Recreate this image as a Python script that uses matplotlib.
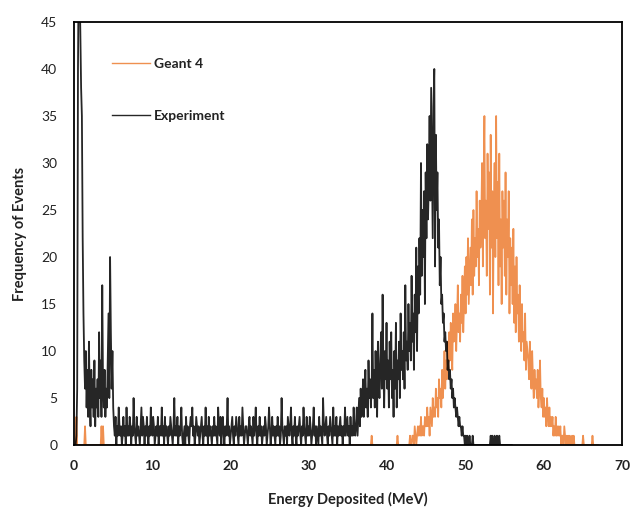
"""
Energy deposition spectrum: Geant 4 simulation vs experiment.
Counts per 0.1 MeV bin, read off the published figure (one row = 1 MeV).
"""

import matplotlib.pyplot as plt
import numpy as np

# ── Style ───────────────────────────────────────────────────────────────────────
GEANT_COLOR = "#ED7D31"
EXP_COLOR = "#000000"
FONT = ["Lato", "DejaVu Sans"]
BIN = 0.1

# ── Data (counts per 0.1 MeV bin) ───────────────────────────────────────────────
# Experiment, bins starting at 0.0 MeV
exp_start = 0.0
exp_counts = [
    0, 0, 0, 1, 6, 40, 52, 49, 44, 38,       # 0
    35, 22, 14, 9, 6, 10, 4, 8, 3, 11,       # 1
    5, 2, 8, 4, 7, 3, 9, 2, 6, 4,
    7, 3, 12, 5, 9, 3, 17, 6, 4, 8,
    3, 6, 4, 9, 14, 5, 20, 12, 6, 10,        # 4
    4, 2, 1, 3, 0, 2, 1, 4, 2, 1,            # 5
    2, 0, 1, 3, 1, 2, 0, 4, 1, 2,
    1, 3, 2, 0, 2, 1, 5, 2, 1, 0,
    3, 1, 2, 1, 0, 2, 4, 1, 3, 2,
    0, 2, 1, 3, 1, 0, 2, 1, 4, 2,
    1, 3, 2, 0, 1, 2, 1, 3, 0, 2,            # 10
    2, 1, 4, 1, 2, 0, 3, 1, 2, 1,
    0, 2, 1, 3, 2, 1, 0, 2, 5, 1,
    2, 1, 3, 0, 2, 1, 2, 4, 1, 0,
    1, 2, 0, 3, 1, 2, 1, 0, 2, 3,
    2, 4, 1, 2, 0, 1, 3, 2, 1, 2,            # 15
    0, 1, 2, 3, 1, 0, 2, 1, 4, 1,
    2, 0, 3, 1, 2, 1, 0, 2, 1, 3,
    1, 2, 1, 0, 4, 2, 1, 3, 0, 2,
    3, 1, 0, 2, 1, 2, 5, 1, 2, 0,
    1, 2, 3, 1, 0, 2, 1, 3, 2, 1,            # 20
    0, 3, 1, 2, 1, 4, 2, 0, 1, 2,
    2, 1, 0, 2, 3, 1, 2, 1, 0, 3,
    1, 2, 4, 1, 0, 2, 1, 3, 1, 2,
    0, 1, 2, 1, 3, 2, 0, 1, 2, 4,
    2, 0, 1, 3, 1, 2, 1, 0, 2, 1,            # 25
    3, 1, 2, 0, 1, 5, 2, 1, 0, 2,
    1, 2, 0, 3, 2, 1, 2, 4, 1, 0,
    2, 1, 3, 1, 0, 2, 1, 2, 3, 1,
    0, 2, 1, 4, 2, 1, 0, 3, 1, 2,
    1, 3, 2, 0, 1, 2, 4, 1, 2, 0,            # 30
    2, 1, 0, 3, 1, 2, 1, 0, 5, 2,
    1, 2, 3, 1, 0, 2, 1, 3, 2, 1,
    0, 4, 1, 2, 1, 3, 0, 2, 1, 2,
    3, 1, 2, 0, 2, 1, 4, 1, 2, 3,
    1, 2, 0, 3, 1, 2, 1, 4, 2, 1,            # 35
    2, 4, 1, 3, 5, 2, 6, 3, 4, 7,
    3, 5, 8, 4, 6, 3, 9, 5, 7, 4,
    6, 14, 5, 8, 4, 10, 6, 3, 11, 7,
    5, 9, 12, 6, 16, 8, 4, 10, 7, 13,
    6, 9, 4, 11, 7, 12, 5, 8, 3, 10,         # 40
    6, 13, 4, 9, 7, 11, 5, 14, 8, 10,
    7, 12, 6, 17, 9, 11, 8, 15, 10, 13,
    9, 18, 11, 14, 8, 16, 12, 21, 10, 19,
    14, 22, 16, 30, 18, 25, 20, 27, 15, 29,
    22, 32, 24, 28, 35, 26, 38, 30, 22, 36,  # 45
    40, 19, 33, 25, 29, 21, 24, 17, 20, 15,
    16, 13, 14, 11, 12, 10, 11, 8, 9, 7,
    8, 6, 7, 5, 6, 4, 5, 4, 3, 4,
    3, 2, 3, 2, 2, 1, 2, 1, 1, 0,
    1, 0, 1, 0, 0, 1, 0, 0, 0, 1,            # 50
    0, 0, 0, 0, 0, 0, 0, 0, 0, 0,
    0, 0, 0, 0, 0, 0, 0, 0, 0, 0,
    0, 0, 1, 0, 1, 0, 0, 1, 0, 0,
    1, 0, 0, 1, 0, 0, 0, 0, 0, 0,
    0, 0, 0, 0, 0, 0, 0, 0, 0, 0,            # 55
]

# Geant 4, low-energy bins starting at 0.0 MeV
geant_low_start = 0.0
geant_low_counts = [
    0, 0, 0, 3, 0, 0, 0, 0, 0, 0,
    0, 0, 0, 0, 2, 0, 0, 0, 0, 0,
    0, 0, 0, 0, 0, 0, 0, 0, 0, 0,
    0, 0, 0, 0, 0, 2, 0, 2, 0, 0,
    0,
]

# Geant 4, main peak bins starting at 36.0 MeV
geant_main_start = 36.0
geant_main_counts = [
    0, 0, 0, 0, 0, 0, 0, 0, 0, 0,            # 36
    0, 0, 0, 0, 0, 0, 0, 0, 0, 0,
    1, 0, 0, 0, 0, 0, 0, 0, 0, 0,
    0, 0, 0, 0, 0, 0, 0, 0, 0, 0,
    0, 0, 0, 0, 0, 0, 0, 0, 0, 0,            # 40
    0, 0, 0, 1, 0, 0, 0, 0, 0, 0,
    0, 0, 0, 0, 0, 0, 0, 0, 0, 1,
    0, 0, 1, 1, 0, 2, 1, 0, 1, 2,
    1, 2, 1, 3, 1, 2, 2, 1, 3, 2,
    2, 4, 2, 3, 1, 4, 3, 2, 5, 3,            # 45
    4, 3, 6, 4, 5, 3, 7, 5, 6, 4,
    8, 5, 7, 10, 6, 9, 7, 11, 8, 12,
    9, 13, 10, 8, 14, 11, 12, 15, 10, 13,
    17, 12, 14, 11, 16, 13, 18, 12, 15, 19,
    14, 20, 16, 22, 15, 18, 21, 17, 24, 16,  # 50
    25, 18, 22, 19, 27, 20, 23, 17, 26, 21,
    24, 30, 19, 28, 35, 22, 26, 18, 31, 23,
    29, 16, 33, 21, 27, 14, 25, 30, 20, 35,
    22, 28, 17, 31, 19, 24, 15, 27, 21, 26,
    18, 29, 16, 24, 20, 27, 14, 22, 17, 21,  # 55
    15, 23, 13, 19, 12, 20, 14, 16, 11, 17,
    13, 10, 15, 11, 12, 9, 14, 8, 11, 10,
    9, 7, 11, 8, 6, 10, 7, 5, 8, 6,
    7, 5, 8, 4, 6, 9, 5, 4, 6, 3,
    5, 3, 4, 2, 5, 3, 2, 4, 2, 3,            # 60
    2, 3, 1, 2, 1, 3, 1, 2, 1, 2,
    1, 2, 0, 1, 1, 0, 2, 1, 0, 1,
    0, 1, 0, 1, 0, 0, 1, 0, 1, 0,
    0, 0, 0, 0, 0, 0, 0, 0, 0, 0,
    1, 0, 0, 0, 0, 0, 0, 0, 0, 0,            # 65
    0, 0, 1, 0, 0, 0, 0, 0, 0, 0,
]

x_ticks = [0, 10, 20, 30, 40, 50, 60, 70]
y_ticks = [0, 5, 10, 15, 20, 25, 30, 35, 40, 45]


def bin_energies(start, counts):
    return start + BIN * np.arange(len(counts))


def main():
    plt.rcParams["font.family"] = FONT

    fig = plt.figure(figsize=(6.33, 5.11), dpi=100)
    ax = fig.add_axes([0.117, 0.129, 0.866, 0.828])

    # Geant 4 drawn as one line; the empty gap between both parts sits on zero
    g_x = np.concatenate([bin_energies(geant_low_start, geant_low_counts),
                          bin_energies(geant_main_start, geant_main_counts)])
    g_y = np.concatenate([geant_low_counts, geant_main_counts])
    ax.plot(g_x, g_y, color=GEANT_COLOR, linewidth=1.25, alpha=0.85, label="Geant 4")

    e_x = bin_energies(exp_start, exp_counts)
    ax.plot(e_x, exp_counts, color=EXP_COLOR, linewidth=1.3, alpha=0.85,
            label="Experiment")

    ax.set_xlim(0, 70)
    ax.set_ylim(0, 45)
    ax.set_xticks(x_ticks)
    ax.set_yticks(y_ticks)
    ax.tick_params(length=0, labelsize=10, colors="#222222")
    ax.tick_params(axis="x", pad=11)
    ax.tick_params(axis="y", pad=12)
    for lbl in ax.get_xticklabels():
        lbl.set_fontweight("bold")

    for s in ax.spines.values():
        s.set_linewidth(1.3)
        s.set_color("black")

    ax.set_xlabel("Energy Deposited (MeV)", fontsize=10.5, fontweight="bold",
                  color="#222222", labelpad=14)
    ax.set_ylabel("Frequency of Events", fontsize=10.5, fontweight="bold",
                  color="#222222", labelpad=10)

    leg = ax.legend(loc="upper left", bbox_to_anchor=(0.069, 0.915),
                    borderaxespad=0, borderpad=0, frameon=False,
                    handlelength=2.75, handletextpad=0.3, labelspacing=2.9,
                    prop={"size": 10, "weight": "bold"})
    for t in leg.get_texts():
        t.set_color("#222222")
    for h in leg.get_lines():
        h.set_linewidth(1.0)

    fig.savefig("out.png", dpi=100)
    plt.close(fig)


if __name__ == "__main__":
    main()
